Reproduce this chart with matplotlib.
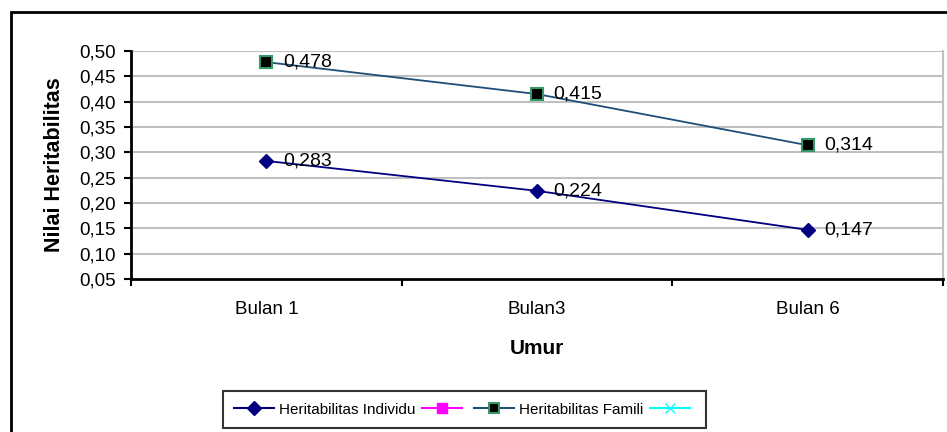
import matplotlib
matplotlib.use("Agg")
import matplotlib.pyplot as plt
from matplotlib.lines import Line2D
from matplotlib.patches import Rectangle

plt.rcParams['font.family'] = ['Liberation Sans', 'DejaVu Sans']

categories = ["Bulan 1", "Bulan3", "Bulan 6"]
individu = [0.283, 0.224, 0.147]
famili = [0.478, 0.415, 0.314]
series_names = ["Heritabilitas Individu", "", "Heritabilitas Famili", ""]
yticks = [0.05, 0.10, 0.15, 0.20, 0.25, 0.30, 0.35, 0.40, 0.45, 0.50]

fig = plt.figure(figsize=(9.47, 4.32), dpi=100)
ax = fig.add_axes([131/947, 1 - 279/432, 812/947, 228/432])

x = list(range(len(categories)))
ax.plot(x, individu, color="#000080", lw=1.3, marker="D", ms=7,
        mfc="#000080", mec="#000080", zorder=3)
ax.plot(x, famili, color="#1F4E79", lw=1.3, marker="s", ms=9,
        mfc="black", mec="#339966", mew=1.5, zorder=3)

def fmt(v):
    return f"{v:.3f}".replace(".", ",")

for xi, v in zip(x, individu):
    ax.annotate(fmt(v), (xi, v), xytext=(12, 0), textcoords="offset points",
                va="center", ha="left", fontsize=14)
for xi, v in zip(x, famili):
    ax.annotate(fmt(v), (xi, v), xytext=(12, 0), textcoords="offset points",
                va="center", ha="left", fontsize=14)

ax.set_xlim(-0.5, len(categories) - 0.5)
ax.set_ylim(0.05, 0.50)
ax.set_yticks(yticks)
ax.set_yticklabels([fmt(t)[:-1] for t in yticks], fontsize=13.5)
for t in yticks[1:]:
    ax.axhline(t, color="#C0C0C0", lw=1.5, zorder=1)

ax.set_xticks([i - 0.5 for i in range(len(categories) + 1)])
ax.set_xticklabels([""] * (len(categories) + 1))
ax.set_xticks(x, minor=True)
ax.set_xticklabels(categories, minor=True, fontsize=13.5)
ax.tick_params(axis="x", which="minor", length=0, pad=16)
ax.tick_params(axis="x", which="major", length=5, width=1.5, direction="out")
ax.tick_params(axis="y", length=5, width=1.5, direction="out", pad=6)

for s in ["left", "bottom"]:
    ax.spines[s].set_linewidth(2)
    ax.spines[s].set_color("black")
ax.spines["top"].set_visible(False)
ax.spines["right"].set_color("#C0C0C0")
ax.spines["right"].set_linewidth(1.5)

ax.set_ylabel("Nilai Heritabilitas", fontsize=15.5, fontweight="bold", labelpad=10)
ax.set_xlabel("Umur", fontsize=15, fontweight="bold", labelpad=15)

# outer chart frame
fig.patches.append(Rectangle((11/947, -0.05), 1.0, 1 - 12/432 + 0.05,
                             transform=fig.transFigure, fill=False,
                             edgecolor="black", lw=2))

handles = [
    Line2D([], [], color="#000080", marker="D", ms=7, mfc="#000080", mec="#000080"),
    Line2D([], [], color="#FF00FF", marker="s", ms=7, mfc="#FF00FF", mec="#FF00FF"),
    Line2D([], [], color="#1F4E79", marker="s", ms=7, mfc="black", mec="#339966", mew=1.5),
    Line2D([], [], color="#00FFFF", marker="x", ms=7, mec="#00FFFF"),
]
leg = fig.legend(handles, series_names, loc="center",
                 bbox_to_anchor=(464.5/947, 1 - 409.5/432), ncol=4, fontsize=11,
                 frameon=True, fancybox=False, handlelength=2.6,
                 handletextpad=0.33, columnspacing=0.45, borderpad=0.75)
leg.get_frame().set_edgecolor("black")
leg.get_frame().set_linewidth(1.5)

fig.savefig("out.png", dpi=100)
